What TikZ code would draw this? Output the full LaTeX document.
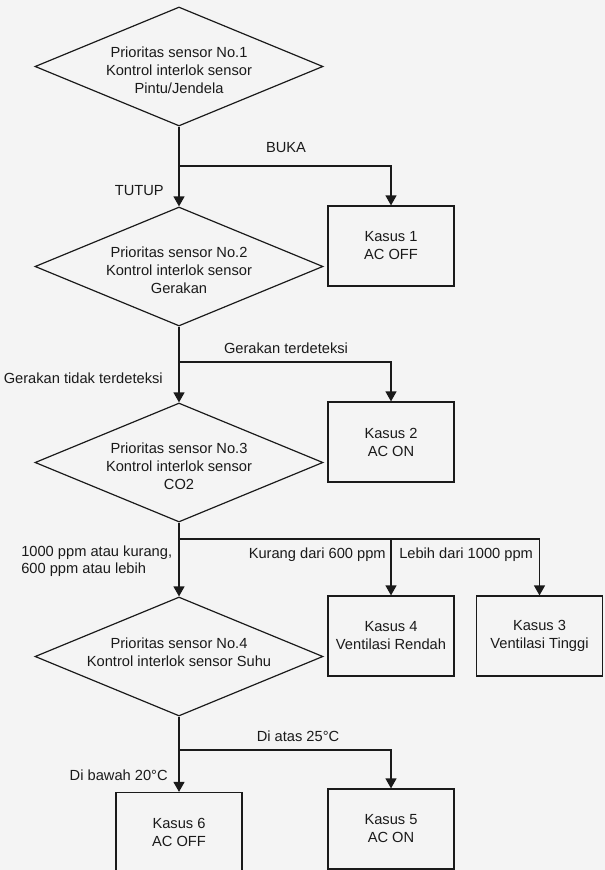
\documentclass[tikz,border=0pt]{standalone}
\usepackage{fontspec}
\setmainfont{Liberation Sans}
\usetikzlibrary{shapes.geometric,arrows.meta}
\definecolor{bg}{HTML}{F4F4F4}
\definecolor{ink}{HTML}{1A1A1A}
\tikzset{
  dia/.style={draw=ink, line width=0.9pt, shape=diamond, minimum width=216pt, minimum height=89.25pt, inner sep=0pt},
  box/.style={draw=ink, line width=0.9pt, rectangle, minimum width=94.5pt, minimum height=60pt, inner sep=0pt, align=center, text=ink, font=\fontsize{11}{13.5}\selectfont},
  txt/.style={align=center, text=ink, inner sep=0pt, font=\fontsize{11}{13.5}\selectfont},
  lbl/.style={text=ink, inner sep=0pt, font=\fontsize{11}{12.5}\selectfont},
  arr/.style={draw=ink, line width=0.9pt, -{Triangle[length=7.5pt,width=8.25pt]}},
  ln/.style={draw=ink, line width=0.9pt}
}
\begin{document}
\begin{tikzpicture}[x=0.75pt,y=-0.75pt]
\useasboundingbox (0,0) rectangle (605,870);
\fill[bg] (0,0) rectangle (605,870);

% decisions
\node[dia] (d1) at (179,66.5) {};
\node[txt,yshift=-3pt] (d1t) at (d1) {Prioritas sensor No.1\\Kontrol interlok sensor\\Pintu/Jendela};
\node[dia] (d2) at (179,266.5) {};
\node[txt,yshift=-3pt] (d2t) at (d2) {Prioritas sensor No.2\\Kontrol interlok sensor\\Gerakan};
\node[dia] (d3) at (179,462.5) {};
\node[txt,yshift=-3pt] (d3t) at (d3) {Prioritas sensor No.3\\Kontrol interlok sensor\\CO2};
\node[dia] (d4) at (179,656.5) {};
\node[txt,yshift=3pt] (d4t) at (d4) {Prioritas sensor No.4\\Kontrol interlok sensor Suhu};

% cases
\node[box] (b1) at (391,246) {Kasus 1\\AC OFF};
\node[box] (b2) at (391,442) {Kasus 2\\AC ON};
\node[box] (b4) at (391,636) {Kasus 4\\Ventilasi Rendah};
\node[box] (b3) at (539.5,636) {Kasus 3\\Ventilasi Tinggi};
\node[box] (b5) at (391,829) {Kasus 5\\AC ON};
\node[box] (b6) at (179,832.5) {Kasus 6\\AC OFF};

% junctions
\coordinate (j1) at (179,166);
\coordinate (j2) at (179,362);
\coordinate (j3) at (179,539);
\coordinate (j4) at (179,750);

% connectors
\draw[arr] (d1.south) -- (d2.north);
\draw[arr] (j1) -| (b1.north);
\draw[arr] (d2.south) -- (d3.north);
\draw[arr] (j2) -| (b2.north);
\draw[arr] (d3.south) -- (d4.north);
\draw[arr] (j3) -| (b4.north);
\draw[arr] (j3) -| (b3.north);
\draw[arr] (d4.south) -- (b6.north);
\draw[arr] (j4) -| (b5.north);

% labels
\node[lbl] (l1) at (286,148) {BUKA};
\node[lbl,anchor=east] (l2) at (164,191) {TUTUP};
\node[lbl] (l3) at (286,348) {Gerakan terdeteksi};
\node[lbl,anchor=east] (l4) at (163,378) {Gerakan tidak terdeteksi};
\node[lbl,anchor=west,align=left] (l5) at (21,561) {1000 ppm atau kurang,\\600 ppm atau lebih};
\node[lbl,anchor=east] (l6) at (386,555) {Kurang dari 600 ppm};
\node[lbl,anchor=west] (l7) at (399,555) {Lebih dari 1000 ppm};
\node[lbl] (l8) at (298,736) {Di atas 25°C};
\node[lbl,anchor=east] (l9) at (168,775) {Di bawah 20°C};
\end{tikzpicture}
\end{document}
